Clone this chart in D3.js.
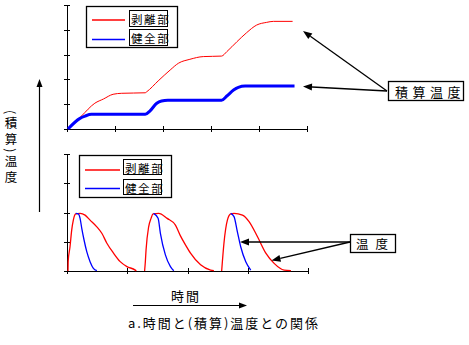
<!DOCTYPE html>
<html><head><meta charset="utf-8">
<script src="https://cdn.jsdelivr.net/npm/d3@7"></script>
<style>
body{margin:0;background:#fff}
svg{display:block}
text{font-family:"Noto Sans CJK JP","Noto Sans",sans-serif;fill:#000}
</style>
</head><body><svg id="c" width="469" height="345"></svg>
<script>
// ---- data ----
const seriesNames = ["剥離部", "健全部"];
const seriesColors = ["#ff0000", "#0000ff"];
// top: accumulated temperature (積算温度)
const cumRedX = [0.03,0.3,0.58,0.76,0.96,1.14,1.63,1.66,1.9,2.15,2.32,2.56,2.84,3.22,3.33,3.54,3.74,3.95,4.16,4.30,4.70];
const cumRedY = [0,0.52,1.04,1.21,1.40,1.44,1.46,1.50,1.94,2.38,2.65,2.81,2.92,2.94,3.12,3.52,3.88,4.19,4.30,4.34,4.34];
const cumBlueX = [0.02,0.27,0.375,0.51,1.63,1.73,1.87,1.97,2.1,3.22,3.33,3.47,3.57,3.71,4.74];
const cumBlueY = [0,0.43,0.52,0.59,0.59,0.73,1.04,1.13,1.16,1.16,1.33,1.57,1.68,1.73,1.73];
// bottom: temperature (温度), cycles separated by null
const tempRedX = [0.017,0.02,0.05,0.078,0.105,0.145,0.217,0.30,0.383,0.495,0.578,0.662,0.772,0.883,0.995,1.133,1.15,null,
  1.288,1.30,1.312,1.355,1.395,1.428,1.522,1.662,1.80,1.883,1.967,2.05,2.217,2.383,2.438,null,
  2.567,2.58,2.605,2.662,2.717,2.772,2.912,3.022,3.162,3.30,3.438,3.605,3.717];
const tempRedY = [0,0.34,0.83,1.40,1.74,1.95,1.97,1.91,1.74,1.51,1.29,0.95,0.61,0.32,0.15,0.03,0,null,
  0,0.31,0.72,1.51,1.80,1.95,1.97,1.80,1.57,1.20,0.89,0.61,0.21,0.03,0.01,null,
  0,0.35,0.95,1.74,1.95,1.97,1.91,1.69,1.17,0.61,0.26,0.03,0.01];
const tempBlueX = [0.145,0.188,0.217,0.245,0.283,0.328,0.383,0.438,0.495,null,
  1.438,1.512,1.55,1.633,1.717,1.772,null,
  2.717,2.772,2.828,2.883,2.967,3.05];
const tempBlueY = [1.97,1.95,1.80,1.46,1.06,0.66,0.32,0.09,0.01,null,
  1.97,1.80,1.29,0.55,0.15,0.01,null,
  1.97,1.86,1.34,0.83,0.32,0.03];
const topTicksX = [0,1,2,3,4,5], topTicksY = [0,1,2,3,4,5];
const botTicksX = [0,1,2,3,4], botTicksY = [0,1,2,3,4];
const yLabel = "(積算)温度";
const xLabel = "時間";
const caption = "a.時間と(積算)温度との関係";
const calloutTop = "積算温度", calloutBot = "温度";

// ---- drawing ----
const svg = d3.select("#c");
const xT = d3.scaleLinear().domain([0,5]).range([67,307]);
const yT = d3.scaleLinear().domain([0,5]).range([129,5]);
const xB = d3.scaleLinear().domain([0,4]).range([67,308]);
const yB = d3.scaleLinear().domain([0,4]).range([271,154]);

function axes(x, y, tx, ty) {
  const gx = svg.append("g").attr("transform", `translate(0,${y.range()[0]})`)
    .call(d3.axisBottom(x).tickValues(tx).tickSize(3).tickSizeOuter(0).tickFormat(""));
  gx.selectAll(".tick line").attr("y1", -3);
  const gy = svg.append("g").attr("transform", `translate(${x.range()[0]},0)`)
    .call(d3.axisLeft(y).tickValues(ty).tickSize(3).tickSizeOuter(0).tickFormat(""));
  gy.selectAll(".tick line").attr("x1", 3);
  svg.selectAll(".domain, .tick line").attr("stroke", "#000").attr("shape-rendering", "crispEdges");
}
axes(xT, yT, topTicksX, topTicksY);
axes(xB, yB, botTicksX, botTicksY);

function drawLine(xs, ys, x, y, color, w) {
  const pts = xs.map((v, i) => ({x: v, y: ys[i]}));
  const line = d3.line().defined(d => d.x != null && d.y != null)
    .x(d => x(d.x)).y(d => y(d.y)).curve(d3.curveMonotoneX);
  svg.append("path").attr("d", line(pts)).attr("fill", "none")
    .attr("stroke", color).attr("stroke-width", w);
}
drawLine(cumRedX, cumRedY, xT, yT, seriesColors[0], 1);
drawLine(cumBlueX, cumBlueY, xT, yT, seriesColors[1], 3);
drawLine(tempRedX, tempRedY, xB, yB, seriesColors[0], 1.3);
drawLine(tempBlueX, tempBlueY, xB, yB, seriesColors[1], 1.3);

// legends
function legend(bx, by, bw, bh, lx1, lx2, ly, tx, tby, tw, th) {
  svg.append("rect").attr("x", bx + .5).attr("y", by + .5).attr("width", bw).attr("height", bh)
    .attr("fill", "#fff").attr("stroke", "#000").attr("stroke-width", 1.3);
  seriesNames.forEach((n, i) => {
    svg.append("line").attr("x1", lx1).attr("x2", lx2).attr("y1", ly[i]).attr("y2", ly[i])
      .attr("stroke", seriesColors[i]).attr("stroke-width", 1.5);
    svg.append("rect").attr("x", tx + .5).attr("y", tby[i] + .5).attr("width", tw).attr("height", th)
      .attr("fill", "#fff").attr("stroke", "#000");
    svg.append("text").attr("x", tx + 2).attr("y", tby[i] + th / 2 + 1)
      .attr("dominant-baseline", "central").attr("font-size", 11.5).attr("letter-spacing", 1.6)
      .text(n);
  });
}
legend(86, 6, 91, 41, 92, 125, [20, 39.5], 129, [10, 29], 38, 16);
legend(79, 155, 92, 42, 85, 120, [170, 188.5], 123, [159, 179], 38, 15);

// arrows
function arrow(x1, y1, x2, y2, len = 9, hw = 3.5, w = 1.3) {
  const a = Math.atan2(y2 - y1, x2 - x1);
  const bx = x2 - len * Math.cos(a), by = y2 - len * Math.sin(a);
  svg.append("line").attr("x1", x1).attr("y1", y1).attr("x2", bx).attr("y2", by)
    .attr("stroke", "#000").attr("stroke-width", w);
  const px = -Math.sin(a) * hw, py = Math.cos(a) * hw;
  svg.append("polygon").attr("points", `${x2},${y2} ${bx + px},${by + py} ${bx - px},${by - py}`)
    .attr("fill", "#000");
}
arrow(39.5, 212, 39.5, 79, 8, 3, 1.2);
arrow(133, 305.5, 247, 305.5, 8, 3, 1.2);
arrow(387, 91, 303, 31);
arrow(387, 91, 303, 86.5);
arrow(350, 242, 240, 242);
arrow(350, 242, 271.5, 260.5);

// callout boxes
svg.append("rect").attr("x", 388.5).attr("y", 81.5).attr("width", 75).attr("height", 19)
  .attr("fill", "#fff").attr("stroke", "#000").attr("stroke-width", 1.3);
svg.append("text").attr("x", 395).attr("y", 91).attr("dominant-baseline", "central")
  .attr("font-size", 13).attr("letter-spacing", 4.5).text(calloutTop);
svg.append("rect").attr("x", 350.5).attr("y", 234.5).attr("width", 45).attr("height", 18)
  .attr("fill", "#fff").attr("stroke", "#000").attr("stroke-width", 1.3);
svg.append("text").attr("x", 356).attr("y", 243.5).attr("dominant-baseline", "central")
  .attr("font-size", 12.5).attr("letter-spacing", 7).text(calloutBot);

// axis labels
svg.append("text").attr("x", 11).attr("y", 110)
  .style("writing-mode", "vertical-rl").attr("font-size", 12.5).attr("letter-spacing", 3)
  .text(yLabel);
svg.append("text").attr("x", 186).attr("y", 301).attr("text-anchor", "middle")
  .attr("font-size", 13).attr("letter-spacing", 2).text(xLabel);
svg.append("text").attr("x", 128).attr("y", 328).attr("font-size", 13)
  .attr("textLength", 190).attr("lengthAdjust", "spacing").text(caption);
</script></body></html>
